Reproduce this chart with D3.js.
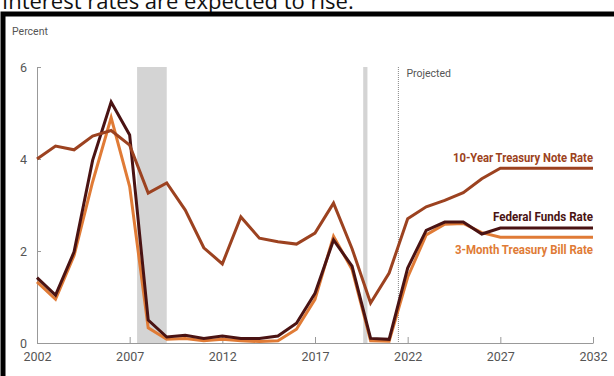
<!DOCTYPE html>
<html>
<head>
<meta charset="utf-8">
<script src="https://cdn.jsdelivr.net/npm/d3@7"></script>
<style>
  body { margin: 0; background: #fff; }
  svg { display: block; }
</style>
</head>
<body>
<div id="chart-area"></div>
<script>
// years 2002-2032, projections from 2022 on
var years = d3.range(2002, 2033);

var tenYear = [4.0, 4.28, 4.2, 4.5, 4.62, 4.3, 3.26, 3.48, 2.89, 2.07, 1.72, 2.74, 2.28, 2.2, 2.15, 2.39,
    3.04, 2.05, 0.87, 1.52, 2.7, 2.96, 3.1, 3.27, 3.57, 3.8, 3.8, 3.8, 3.8, 3.8, 3.8];
var fedFunds = [1.42, 1.04, 1.98, 3.97, 5.24, 4.52, 0.5, 0.13, 0.17, 0.1, 0.15, 0.1, 0.1, 0.15, 0.43, 1.08,
    2.24, 1.67, 0.1, 0.08, 1.63, 2.45, 2.63, 2.63, 2.37, 2.5, 2.5, 2.5, 2.5, 2.5, 2.5];
var tBill = [1.33, 0.95, 1.9, 3.5, 4.9, 3.4, 0.33, 0.08, 0.1, 0.05, 0.08, 0.05, 0.03, 0.05, 0.3, 0.95,
    2.32, 1.6, 0.05, 0.04, 1.43, 2.35, 2.58, 2.6, 2.4, 2.3, 2.3, 2.3, 2.3, 2.3, 2.3];

var recessions = [[2007.4, 2009.0], [2019.6, 2019.83]];
var projectedStart = 2021.5;
var xTicks = [2002, 2007, 2012, 2017, 2022, 2027, 2032];
var yTicks = [0, 2, 4, 6];

var series = [
    { name: "3-Month Treasury Bill Rate", values: tBill, color: "#e07b36", labelY: 254, labelW: 138 },
    { name: "Federal Funds Rate", values: fedFunds, color: "#4a1313", labelY: 221, labelW: 100 },
    { name: "10-Year Treasury Note Rate", values: tenYear, color: "#9c4220", labelY: 162, labelW: 140 }
];

var width = 614, height = 376;
var svg = d3.select("#chart-area")
    .append("svg")
        .attr("width", width)
        .attr("height", height);

var font = "'Roboto', sans-serif";

// title, cut off at the top of the picture
svg.append("text")
    .attr("x", 2)
    .attr("y", 9)
    .attr("font-family", "'Open Sans', sans-serif")
    .attr("font-size", 22)
    .attr("fill", "#111")
    .text("Interest rates are expected to rise.");

// black frame
svg.append("rect")
    .attr("x", 3)
    .attr("y", 14)
    .attr("width", 640)
    .attr("height", 400)
    .attr("fill", "#fff")
    .attr("stroke", "#000")
    .attr("stroke-width", 5);

var x = d3.scaleLinear()
    .domain([2002, 2032])
    .range([37, 593]);

var y = d3.scaleLinear()
    .domain([0, 6])
    .range([343, 67]);

// recession bars
svg.selectAll("rect.rec")
        .data(recessions)
    .enter()
        .append("rect")
        .attr("class", "rec")
        .attr("x", function(d){ return x(d[0]); })
        .attr("width", function(d){ return x(d[1]) - x(d[0]); })
        .attr("y", y(6))
        .attr("height", y(0) - y(6))
        .attr("fill", "#d4d4d4");

// projected divider
svg.append("line")
    .attr("x1", x(projectedStart)).attr("x2", x(projectedStart))
    .attr("y1", y(6)).attr("y2", y(0))
    .attr("stroke", "#888")
    .attr("stroke-width", 1)
    .attr("stroke-dasharray", "1,1");

svg.append("text")
    .attr("x", x(projectedStart) + 8)
    .attr("y", 77)
    .attr("font-family", font)
    .attr("font-size", 10.5)
    .attr("fill", "#555")
    .text("Projected");

svg.append("text")
    .attr("x", 12)
    .attr("y", 35)
    .attr("font-family", font)
    .attr("font-size", 10.5)
    .attr("fill", "#555")
    .text("Percent");

// axes
var xAxis = d3.axisBottom(x)
    .tickValues(xTicks)
    .tickFormat(d3.format("d"))
    .tickSizeInner(-6)
    .tickSizeOuter(0)
    .tickPadding(9);

var yAxis = d3.axisLeft(y)
    .tickValues(yTicks)
    .tickFormat(d3.format("d"))
    .tickSizeInner(-4)
    .tickSizeOuter(0)
    .tickPadding(10);

var gx = svg.append("g")
    .attr("transform", "translate(0," + y(0) + ")")
    .call(xAxis);

var gy = svg.append("g")
    .attr("transform", "translate(" + x(2002) + ",0)")
    .call(yAxis);

[gx, gy].forEach(function(g){
    g.selectAll("path, line").attr("stroke", "#999");
    g.selectAll("text")
        .attr("font-family", font)
        .attr("font-size", 12.5)
        .attr("fill", "#555");
});

// lines
var line = d3.line()
    .x(function(d, i){ return x(years[i]); })
    .y(function(d){ return y(d); });

svg.selectAll("path.series")
        .data(series)
    .enter()
        .append("path")
        .attr("class", "series")
        .attr("d", function(d){ return line(d.values); })
        .attr("fill", "none")
        .attr("stroke", function(d){ return d.color; })
        .attr("stroke-width", 3)
        .attr("stroke-linejoin", "miter");

// series labels at the right, condensed to match the original
svg.selectAll("text.label")
        .data(series)
    .enter()
        .append("text")
        .attr("class", "label")
        .attr("x", x(2032))
        .attr("y", function(d){ return d.labelY; })
        .attr("text-anchor", "end")
        .attr("font-family", font)
        .attr("font-weight", "bold")
        .attr("font-size", 12.5)
        .attr("textLength", function(d){ return d.labelW; })
        .attr("lengthAdjust", "spacingAndGlyphs")
        .attr("fill", function(d){ return d.color; })
        .text(function(d){ return d.name; });
</script>
</body>
</html>
